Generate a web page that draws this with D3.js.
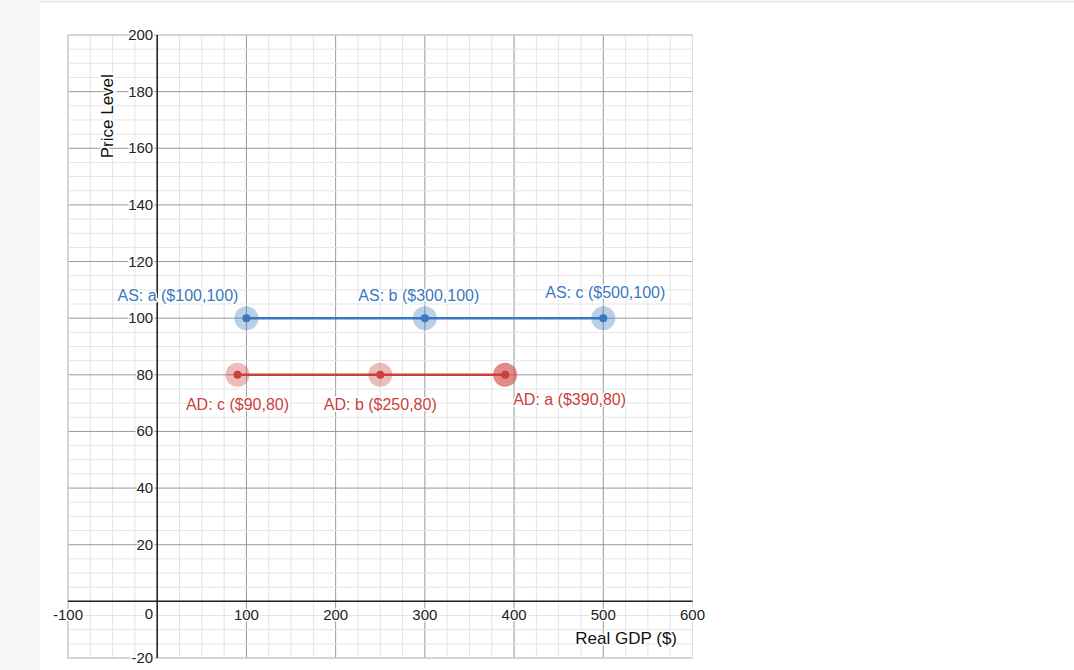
<!DOCTYPE html>
<html><head><meta charset="utf-8">
<script src="https://cdn.jsdelivr.net/npm/d3@7"></script>
<style>body{margin:0;background:#f7f7f7;font-family:Arial,"Liberation Sans",sans-serif}</style>
</head><body><svg id="c" width="1074" height="670"></svg>
<script>
const xTicks=[-100,0,100,200,300,400,500,600];
const yTicks=[-20,0,20,40,60,80,100,120,140,160,180,200];
const asX=[100,300,500], asY=[100,100,100], asLabels=["AS: a ($100,100)","AS: b ($300,100)","AS: c ($500,100)"];
const adX=[90,250,390], adY=[80,80,80], adLabels=["AD: c ($90,80)","AD: b ($250,80)","AD: a ($390,80)"];
const svg=d3.select("#c");
svg.append("rect").attr("x",40).attr("y",2).attr("width",1034).attr("height",668).attr("fill","#fff");
svg.append("line").attr("x1",40).attr("x2",1074).attr("y1",2).attr("y2",2).attr("stroke","#ddd");
const x=d3.scaleLinear().domain([-100,600]).range([68,692.5]);
const y=d3.scaleLinear().domain([-20,200]).range([658,35]);
const g=svg.append("g");
d3.range(-100,601,25).forEach(v=>g.append("line").attr("x1",x(v)).attr("x2",x(v)).attr("y1",35).attr("y2",658).attr("stroke",v%100===0?"#999":"#e4e4e4").attr("stroke-width",1));
d3.range(-20,201,5).forEach(v=>g.append("line").attr("y1",y(v)).attr("y2",y(v)).attr("x1",68).attr("x2",692.5).attr("stroke",v%20===0?"#999":"#e4e4e4").attr("stroke-width",1));
g.append("rect").attr("x",68).attr("y",35).attr("width",624.5).attr("height",623).attr("fill","none").attr("stroke","#ddd");
g.append("line").attr("x1",x(0)).attr("x2",x(0)).attr("y1",35).attr("y2",658).attr("stroke","#222").attr("stroke-width",1.5);
g.append("line").attr("y1",y(0)).attr("y2",y(0)).attr("x1",68).attr("x2",692.5).attr("stroke","#222").attr("stroke-width",1.5);
const halo=s=>s.attr("paint-order","stroke").attr("stroke","#fff").attr("stroke-width",3);
xTicks.filter(v=>v!==0).forEach(v=>halo(g.append("text").attr("x",x(v)).attr("y",y(0)+19).attr("text-anchor","middle").attr("font-size",15).attr("fill","#222").text(v)));
yTicks.forEach(v=>halo(g.append("text").attr("x",x(0)-4).attr("y",y(v)+(v===0?18:5)).attr("text-anchor","end").attr("font-size",15).attr("fill","#222").text(v)));
halo(g.append("text").attr("x",677).attr("y",644).attr("text-anchor","end").attr("font-size",17).attr("fill","#111").text("Real GDP ($)"));
halo(g.append("text").attr("transform",`translate(113,${y(160)+10}) rotate(-90)`).attr("text-anchor","start").attr("font-size",17).attr("fill","#111").text("Price Level"));
function series(xs,ys,col,big,labels,lp){
  g.append("line").attr("x1",x(d3.min(xs))).attr("x2",x(d3.max(xs))).attr("y1",y(ys[0])).attr("y2",y(ys[0])).attr("stroke",col).attr("stroke-width",2.5);
  xs.forEach((v,i)=>{
    g.append("circle").attr("cx",x(v)).attr("cy",y(ys[i])).attr("r",12).attr("fill",col).attr("opacity",big[i]);
    g.append("circle").attr("cx",x(v)).attr("cy",y(ys[i])).attr("r",4).attr("fill",col);
    halo(g.append("text").attr("x",x(v)+lp[i][0]).attr("y",y(ys[i])+lp[i][1]).attr("text-anchor",lp[i][2]).attr("font-size",16).attr("fill",col).text(labels[i]));
  });
}
series(asX,asY,"#3a78bf",[0.35,0.35,0.35],asLabels,[[-8,-17,"end"],[-6,-17,"middle"],[2,-20,"middle"]]);
series(adX,adY,"#c9403d",[0.35,0.35,0.6],adLabels,[[0,35,"middle"],[0,35,"middle"],[8,30,"start"]]);
</script></body></html>
